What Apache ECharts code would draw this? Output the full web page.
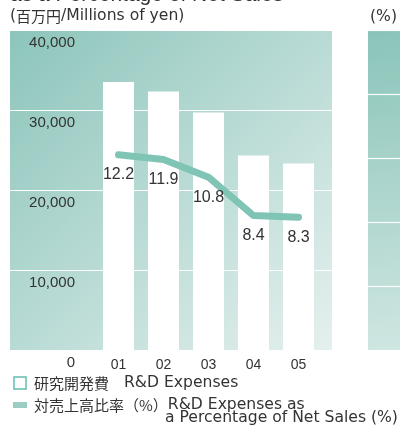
<!DOCTYPE html>
<html>
<head>
<meta charset="utf-8">
<script src="https://cdn.jsdelivr.net/npm/echarts@6/dist/echarts.min.js"></script>
<style>
  html, body { margin: 0; padding: 0; background: #fff; }
  #main { width: 400px; height: 427px; }
</style>
</head>
<body>
<div id="main"></div>
<script>
// 年度
const years = ["01", "02", "03", "04", "05"];
// 研究開発費（百万円）
const rdExpenses = [33500, 32300, 29700, 24300, 23300];
// 対売上高比率（%）
const rdRatio = [12.2, 11.9, 10.8, 8.4, 8.3];
// 目盛り
const yenTicks = [0, 10000, 20000, 30000, 40000];
const pctTicks = [0, 4, 8, 12, 16, 20];

const FONT = "'Liberation Sans', Arial, sans-serif";
const WIDE = "'DejaVu Sans', sans-serif";
const JP = "'Noto Sans CJK JP', sans-serif";
const TEXT = "#333";

const chart = echarts.init(document.getElementById("main"));

const panel = (from, to) =>
  new echarts.graphic.LinearGradient(0, 0, 1, 1, [
    { offset: 0, color: from },
    { offset: 1, color: to },
  ]);

// 和文と欧文でフォントを分ける
const rich = {
  jp: { fontFamily: JP, fontSize: 15, color: TEXT },
  en: { fontFamily: WIDE, fontSize: 15.6, color: TEXT },
};

const legendText = (x, y, text) => ({
  type: "text",
  x,
  y,
  style: { text, rich, fill: TEXT, textVerticalAlign: "middle" },
});

const yenMin = yenTicks[0];
const yenMax = yenTicks[yenTicks.length - 1];
const pctMin = pctTicks[0];
const pctMax = pctTicks[pctTicks.length - 1];

const options = {
  animation: false,
  grid: [
    // 左パネル（背景・目盛り）
    {
      left: 10, top: 30, width: 322, height: 320,
      show: true, borderWidth: 0,
      backgroundColor: panel("#8cc5bb", "#e5f0ee"),
    },
    // 棒と折れ線
    { left: 96, top: 30, width: 225, height: 320 },
    // 右パネル（%）
    {
      left: 368, top: 30, width: 72, height: 320,
      show: true, borderWidth: 0,
      backgroundColor: panel("#8ac4b9", "#cfe6e1"),
    },
  ],
  xAxis: [
    { gridIndex: 0, type: "value", show: false },
    {
      gridIndex: 1,
      type: "category",
      data: years,
      axisLine: { show: false },
      axisTick: { show: false },
      axisLabel: { color: TEXT, fontSize: 14, fontFamily: FONT, margin: 8 },
    },
    { gridIndex: 2, type: "value", show: false },
  ],
  yAxis: [
    {
      gridIndex: 0,
      min: yenMin,
      max: yenMax,
      interval: yenTicks[1] - yenTicks[0],
      axisLine: { show: false },
      axisTick: { show: false },
      splitLine: { lineStyle: { color: "#fff", width: 1.2 } },
      axisLabel: {
        inside: true,
        align: "right",
        verticalAlign: "top",
        margin: 65,
        padding: [5, 0, 0, 0],
        color: TEXT,
        fontSize: 15,
        fontFamily: FONT,
        formatter: (v) => v.toLocaleString("en-US"),
      },
    },
    { gridIndex: 1, min: yenMin, max: yenMax, show: false },
    { gridIndex: 1, min: pctMin, max: pctMax, show: false },
    {
      gridIndex: 2,
      min: pctMin,
      max: pctMax,
      interval: pctTicks[1] - pctTicks[0],
      axisLine: { show: false },
      axisTick: { show: false },
      axisLabel: { show: false },
      splitLine: { lineStyle: { color: "#fff", width: 1.2 } },
    },
  ],
  series: [
    {
      name: "研究開発費",
      type: "bar",
      xAxisIndex: 1,
      yAxisIndex: 1,
      data: rdExpenses,
      barWidth: 31,
      itemStyle: { color: "#fff" },
    },
    {
      name: "対売上高比率",
      type: "line",
      xAxisIndex: 1,
      yAxisIndex: 2,
      data: rdRatio,
      z: 3,
      symbol: "circle",
      symbolSize: 2,
      showSymbol: true,
      itemStyle: { color: "#80c4b6" },
      lineStyle: { color: "#80c4b6", width: 7, cap: "round", join: "round" },
      label: {
        show: true,
        position: "bottom",
        distance: 11,
        color: TEXT,
        fontSize: 16,
        fontFamily: FONT,
        formatter: (p) => p.value.toFixed(1),
      },
    },
  ],
  graphic: [
    // タイトル（上が切れている）
    {
      type: "text", x: 10, y: 6,
      style: {
        text: "as a Percentage of Net Sales",
        font: "21px " + FONT, fill: TEXT,
        textVerticalAlign: "bottom",
      },
    },
    legendText(10, 16, "{en|(}{jp|百万円}{en|/Millions of yen)}"),
    legendText(370, 17, "{en|(%)}"),
    // 凡例
    {
      type: "rect",
      shape: { x: 14, y: 377, width: 12, height: 12 },
      style: { fill: "#fff", stroke: "#62bdae", lineWidth: 1.5 },
    },
    legendText(34, 383, "{jp|研究開発費　}{en|R&D Expenses}"),
    {
      type: "rect",
      shape: { x: 13, y: 402, width: 14, height: 6 },
      style: { fill: "#9ccdc5" },
    },
    legendText(34, 405, "{jp|対売上高比率（%）}{en|R&D Expenses as}"),
    legendText(165, 418, "{en|a Percentage of Net Sales (%)}"),
  ],
};

chart.setOption(options);
</script>
</body>
</html>
